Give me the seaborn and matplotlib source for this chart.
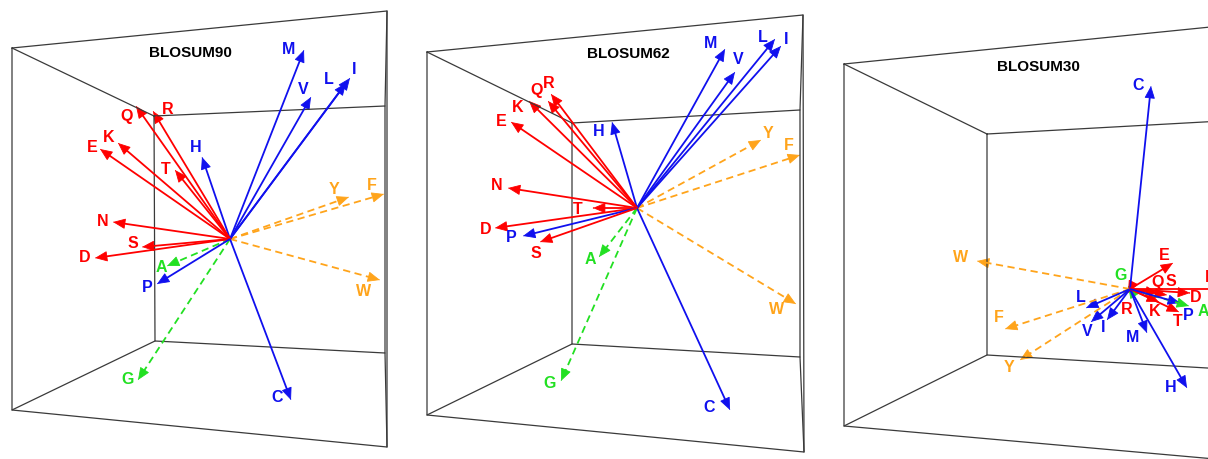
import matplotlib
matplotlib.use("Agg")
import matplotlib.pyplot as plt
import seaborn as sns
from matplotlib.patches import FancyArrowPatch

sns.set_theme(style="white")
plt.rcParams['font.family'] = ['Liberation Sans', 'DejaVu Sans']

# ---------------- data (projected vector tips / label positions) ----------------
titles = ["BLOSUM90", "BLOSUM62", "BLOSUM30"]
title_x = [190, 628, 1038]
title_y = [53, 54, 67]

origin_x = [230, 637, 1130]
origin_y = [239, 208, 289]

groups = {"R": "red", "Q": "red", "K": "red", "E": "red", "T": "red", "N": "red",
          "S": "red", "D": "red",
          "M": "blue", "V": "blue", "L": "blue", "I": "blue", "H": "blue", "C": "blue", "P": "blue",
          "Y": "orange", "F": "orange", "W": "orange",
          "A": "green", "G": "green"}

# panel 1 : BLOSUM90
p1_labels = ["M", "V", "L", "I", "H", "C", "Q", "R", "K", "E", "T", "N", "S", "D", "A", "P", "G", "Y", "F", "W"]
p1_tip_x = [304, 311, 346, 350, 202, 291, 136, 153, 118, 100, 175, 113, 142, 95, 167, 157, 138, 349, 384, 380]
p1_tip_y = [50, 97, 83, 78, 157, 400, 106, 111, 143, 149, 170, 222, 247, 258, 266, 284, 380, 197, 194, 280]
p1_lab_x = [289, 303, 329, 354, 196, 277, 127, 168, 109, 92, 166, 103, 133, 85, 161, 147, 128, 334, 372, 364]
p1_lab_y = [49, 90, 80, 69, 147, 398, 116, 109, 138, 148, 169, 221, 243, 258, 268, 288, 379, 190, 185, 291]

# panel 2 : BLOSUM62
p2_labels = ["M", "V", "L", "I", "H", "C", "R", "Q", "K", "E", "N", "T", "D", "P", "S", "A", "G", "Y", "F", "W"]
p2_tip_x = [725, 735, 775, 781, 612, 730, 551, 548, 529, 511, 508, 593, 495, 523, 540, 599, 561, 761, 800, 796]
p2_tip_y = [49, 72, 39, 46, 122, 410, 94, 101, 101, 122, 188, 208, 228, 236, 242, 257, 381, 140, 155, 304]
p2_lab_x = [711, 738, 763, 786, 599, 709, 549, 537, 518, 501, 497, 578, 486, 511, 536, 590, 550, 768, 789, 777]
p2_lab_y = [43, 60, 37, 39, 132, 407, 83, 91, 107, 121, 186, 209, 229, 237, 253, 259, 384, 133, 146, 310]

# panel 3 : BLOSUM30
p3_labels = ["C", "W", "F", "Y", "G", "L", "V", "I", "M", "H", "R", "E", "Q", "S", "N", "D", "K", "T", "P", "A"]
p3_tip_x = [1151, 977, 1005, 1020, 1128, 1086, 1091, 1107, 1147, 1187, 1128, 1173, 1158, 1167, 1240, 1190, 1159, 1179, 1180, 1189]
p3_tip_y = [86, 261, 329, 360, 286, 308, 322, 320, 333, 388, 293, 263, 293, 295, 289, 293, 302, 312, 303, 306]
p3_lab_x = [1138, 961, 999, 1009, 1121, 1081, 1087, 1103, 1133, 1171, 1127, 1164, 1158, 1171, 1211, 1196, 1155, 1178, 1188, 1203]
p3_lab_y = [86, 258, 318, 367, 275, 297, 332, 328, 337, 388, 309, 255, 282, 282, 277, 297, 311, 322, 316, 311]

# box corners: outer TL, TR, BR, BL ; inner TL, TR, BR, BL
box_outer_x = [[12, 387, 387, 12], [427, 803, 804, 427], [844, 1260, 1260, 844]]
box_outer_y = [[48, 11, 447, 410], [52, 15, 452, 415], [64, 22, 463, 426]]
box_inner_x = [[154, 385, 385, 155], [572, 800, 800, 572], [987, 1258, 1258, 987]]
box_inner_y = [[116, 106, 353, 341], [123, 110, 357, 344], [134, 119, 371, 355]]

panels = [
    (p1_labels, p1_tip_x, p1_tip_y, p1_lab_x, p1_lab_y),
    (p2_labels, p2_tip_x, p2_tip_y, p2_lab_x, p2_lab_y),
    (p3_labels, p3_tip_x, p3_tip_y, p3_lab_x, p3_lab_y),
]

color_map = {"red": "#ff0000", "blue": "#1010ee", "orange": "#ffa41b", "green": "#22e022"}

# ---------------- figure ----------------
fig = plt.figure(figsize=(12.08, 4.59), dpi=100)
ax = fig.add_axes([0, 0, 1, 1])
ax.set_xlim(0, 1208)
ax.set_ylim(459, 0)
ax.axis("off")

edge_kw = dict(color="#3a3a3a", lw=0.9, solid_capstyle="round")
for b in range(3):
    ox, oy = box_outer_x[b], box_outer_y[b]
    ix, iy = box_inner_x[b], box_inner_y[b]
    ax.plot(ox + [ox[0]], oy + [oy[0]], **edge_kw)
    ax.plot(ix + [ix[0]], iy + [iy[0]], **edge_kw)
    for k in range(4):
        ax.plot([ox[k], ix[k]], [oy[k], iy[k]], **edge_kw)

for p, (labs, tx, ty, lx, ly) in enumerate(panels):
    x0, y0 = origin_x[p], origin_y[p]
    # draw dashed ones first, then solid
    order = sorted(range(len(labs)), key=lambda i: groups[labs[i]] in ("red", "blue"))
    for i in order:
        g = groups[labs[i]]
        col = color_map[g]
        dashed = g in ("orange", "green")
        x1, y1 = tx[i], ty[i]
        dx, dy = x1 - x0, y1 - y0
        L = (dx ** 2 + dy ** 2) ** 0.5
        ux, uy = dx / L, dy / L
        hx, hy = x1 - ux * 6, y1 - uy * 6
        ax.plot([x0, hx], [y0, hy], color=col, lw=1.3,
                linestyle=(0, (4, 2.5)) if dashed else "-",
                solid_capstyle="butt", dash_capstyle="butt", clip_on=True)
        arr = FancyArrowPatch((x1 - ux * 0.5, y1 - uy * 0.5), (x1, y1),
                              arrowstyle="-|>,head_length=1.3,head_width=0.55",
                              mutation_scale=6, color=col, lw=0.6,
                              shrinkA=0, shrinkB=0, clip_on=True)
        ax.add_patch(arr)
        ax.text(lx[i], ly[i], labs[i], color=col, fontsize=11.5, fontweight="bold",
                ha="center", va="center", clip_on=True)
    ax.text(title_x[p], title_y[p], titles[p], color="black", fontsize=11,
            fontweight="bold", ha="center", va="center")

fig.savefig("out.png", dpi=100, facecolor="white")
